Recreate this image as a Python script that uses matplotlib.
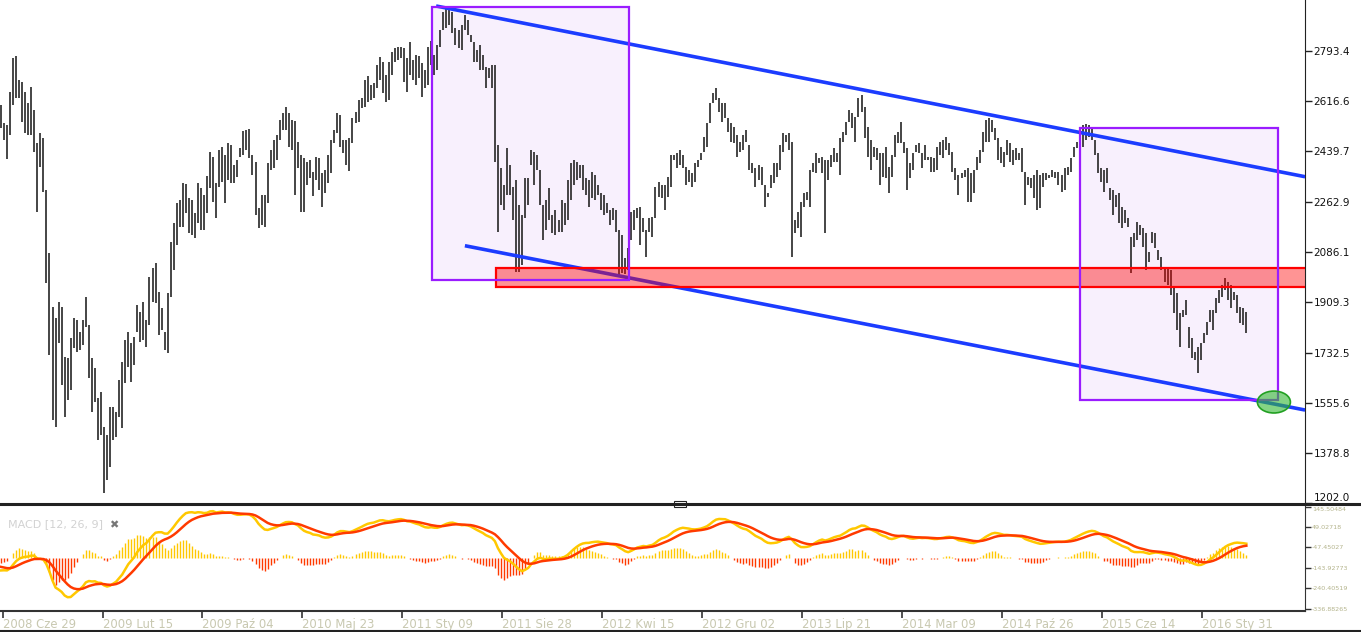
import numpy as np
import matplotlib
matplotlib.use("Agg")
import matplotlib.pyplot as plt
from matplotlib.patches import Rectangle, Ellipse
from matplotlib.lines import Line2D

# weekly highs / lows (2008-06-29 onwards)
high = [2603, 2539, 2532, 2648, 2768, 2775, 2690, 2683, 2648, 2610,
        2666, 2585, 2469, 2504, 2487, 2304, 2082, 1893, 1854, 1910,
        1893, 1717, 1713, 1783, 1854, 1847, 1805, 1847, 1928, 1829,
        1713, 1678, 1573, 1594, 1471, 1443, 1541, 1541, 1523, 1636,
        1699, 1776, 1805, 1766, 1787, 1900, 1875, 1910, 1847, 1998,
        2030, 2047, 1945, 1889, 1805, 1942, 2121, 2188, 2258, 2269,
        2328, 2325, 2276, 2269, 2223, 2328, 2311, 2286, 2353, 2437,
        2420, 2328, 2444, 2455, 2427, 2469, 2462, 2392, 2409, 2451,
        2511, 2515, 2518, 2427, 2402, 2241, 2286, 2286, 2399, 2444,
        2480, 2497, 2550, 2574, 2595, 2574, 2550, 2546, 2473, 2427,
        2416, 2402, 2409, 2367, 2420, 2416, 2363, 2374, 2427, 2480,
        2515, 2574, 2567, 2480, 2480, 2487, 2557, 2578, 2620, 2627,
        2690, 2704, 2673, 2679, 2743, 2771, 2754, 2708, 2754, 2789,
        2803, 2806, 2806, 2803, 2768, 2824, 2761, 2778, 2775, 2750,
        2726, 2806, 2828, 2778, 2813, 2866, 2929, 2943, 2936,
        2929, 2873, 2866, 2884, 2919, 2901, 2849, 2824, 2796, 2813,
        2778, 2736, 2733, 2743, 2743, 2462, 2381, 2321, 2451, 2392,
        2314, 2339, 2251, 2216, 2346, 2346, 2444, 2437, 2427, 2374,
        2251, 2269, 2311, 2216, 2233, 2198, 2269, 2258, 2339, 2399,
        2409, 2402, 2392, 2392, 2346, 2339, 2367, 2356, 2321, 2293,
        2286, 2258, 2233, 2241, 2233, 2163, 2146, 2065, 2100, 2226,
        2233, 2241, 2244, 2205, 2163, 2205, 2209, 2314, 2332, 2321,
        2321, 2349, 2427, 2427, 2434, 2444, 2427, 2385, 2374,
        2363, 2399, 2409, 2434, 2490, 2539, 2610, 2645, 2662, 2627,
        2610, 2610, 2557, 2539, 2525, 2497, 2473, 2497, 2515, 2462,
        2399, 2381, 2392, 2385, 2321, 2293, 2356, 2399, 2399, 2462,
        2504, 2497, 2504, 2473, 2198, 2226, 2262, 2293, 2297, 2374,
        2399, 2434, 2416, 2420, 2409, 2409, 2427, 2451, 2434, 2487,
        2508, 2543, 2585, 2574, 2560, 2627, 2638, 2595, 2525, 2480,
        2455, 2451, 2434, 2434, 2455, 2385, 2427, 2497, 2508, 2543,
        2473, 2451, 2399, 2434, 2462, 2469, 2434, 2462, 2420, 2420,
        2416, 2455, 2473, 2480, 2490, 2469, 2437, 2381, 2356, 2363,
        2374, 2381, 2363, 2374, 2420, 2444, 2508, 2550, 2557, 2550,
        2522, 2487, 2455, 2437, 2480, 2469, 2444, 2451, 2434,
        2451, 2367, 2349, 2346, 2356, 2374, 2356, 2363, 2363, 2356,
        2374, 2367, 2367, 2356, 2381, 2385, 2416, 2455, 2473, 2504,
        2532, 2536, 2532, 2525, 2480, 2434, 2381, 2374, 2381,
        2311, 2304, 2286, 2293, 2244, 2233, 2205, 2139, 2153, 2191,
        2181, 2170, 2153, 2086, 2156, 2153, 2093, 2068, 2033, 2033,
        2023, 1959, 1942, 1871, 1882, 1917, 1822, 1783, 1734, 1752,
        1766, 1801, 1840, 1882, 1882, 1924, 1952, 1970, 1994, 1980,
        1970, 1945, 1935, 1893, 1889, 1875]

low = [2522, 2480, 2413, 2497, 2603, 2627, 2627, 2543, 2504, 2497,
       2497, 2437, 2226, 2385, 2297, 1977, 1724, 1495, 1471, 1766,
       1618, 1506, 1566, 1601, 1748, 1734, 1741, 1759, 1822, 1643,
       1523, 1559, 1425, 1443, 1239, 1284, 1330, 1425, 1436, 1506,
       1467, 1625, 1682, 1629, 1689, 1805, 1769, 1776, 1752, 1829,
       1910, 1907, 1794, 1812, 1741, 1731, 1928, 2023, 2110, 2174,
       2174, 2223, 2153, 2146, 2135, 2188, 2163, 2163, 2223, 2311,
       2262, 2205, 2314, 2332, 2258, 2339, 2328, 2328, 2349, 2420,
       2427, 2444, 2416, 2356, 2216, 2170, 2181, 2174, 2258, 2374,
       2381, 2409, 2480, 2515, 2515, 2455, 2444, 2286, 2381, 2226,
       2226, 2321, 2346, 2283, 2339, 2304, 2244, 2293, 2328, 2363,
       2469, 2504, 2455, 2434, 2392, 2371, 2469, 2539, 2543, 2592,
       2595, 2613, 2620, 2627, 2662, 2690, 2645, 2613, 2620, 2708,
       2754, 2761, 2768, 2683, 2648, 2708, 2690, 2673, 2697, 2631,
       2662, 2673, 2743, 2708, 2726, 2806, 2866, 2873, 2884,
       2856, 2813, 2803, 2796, 2866, 2849, 2824, 2754, 2754, 2726,
       2726, 2662, 2697, 2662, 2402, 2156, 2251, 2233, 2286, 2286,
       2198, 2015, 2015, 2040, 2205, 2251, 2392, 2321, 2374, 2251,
       2128, 2163, 2198, 2153, 2146, 2156, 2156, 2181, 2198, 2269,
       2321, 2339, 2346, 2304, 2286, 2244, 2276, 2269, 2286, 2233,
       2216, 2223, 2181, 2198, 2156, 2005, 2012, 2008, 2023, 2128,
       2163, 2205, 2110, 2156, 2068, 2156, 2139, 2205, 2279, 2276,
       2233, 2279, 2314, 2409, 2381, 2392, 2381, 2321, 2332,
       2314, 2332, 2385, 2409, 2437, 2455, 2539, 2610, 2620, 2578,
       2543, 2557, 2508, 2473, 2469, 2420, 2437, 2444, 2473, 2374,
       2363, 2314, 2339, 2321, 2244, 2279, 2311, 2328, 2349, 2374,
       2437, 2473, 2444, 2068, 2153, 2170, 2139, 2244, 2269, 2244,
       2367, 2363, 2399, 2363, 2153, 2339, 2385, 2402, 2402, 2356,
       2473, 2497, 2543, 2522, 2473, 2560, 2578, 2487, 2420, 2374,
       2420, 2409, 2321, 2349, 2346, 2293, 2349, 2420, 2469, 2469,
       2434, 2304, 2346, 2374, 2437, 2434, 2381, 2409, 2409, 2367,
       2367, 2374, 2427, 2416, 2444, 2427, 2367, 2339, 2286, 2346,
       2349, 2262, 2262, 2293, 2374, 2399, 2437, 2473, 2473, 2508,
       2480, 2409, 2399, 2385, 2427, 2402, 2392, 2409, 2409,
       2367, 2251, 2321, 2311, 2276, 2233, 2241, 2314, 2339, 2346,
       2349, 2346, 2321, 2297, 2304, 2356, 2367, 2420, 2451, 2455,
       2455, 2480, 2490, 2480, 2427, 2363, 2332, 2297, 2328,
       2269, 2216, 2244, 2188, 2170, 2188, 2174, 2012, 2103, 2128,
       2146, 2103, 2023, 2051, 2117, 2100, 2058, 2023, 1980, 1970,
       1935, 1871, 1812, 1752, 1857, 1864, 1748, 1713, 1706, 1661,
       1706, 1766, 1794, 1840, 1812, 1871, 1907, 1928, 1952, 1917,
       1889, 1917, 1871, 1836, 1829, 1801]

date_labels = ["2008 Cze 29", "2009 Lut 15", "2009 Paź 04", "2010 Maj 23",
               "2011 Sty 09", "2011 Sie 28", "2012 Kwi 15", "2012 Gru 02",
               "2013 Lip 21", "2014 Mar 09", "2014 Paź 26", "2015 Cze 14",
               "2016 Sty 31"]
price_ticks = [1202.0, 1378.8, 1555.6, 1732.5, 1909.3, 2086.1, 2262.9,
               2439.7, 2616.6, 2793.4]
macd_ticks = [145.50484, 49.02718, -47.45027, -143.92773, -240.40519, -336.88265]

# hand drawn objects (week index, price)
box_2011 = (142.2, 1987, 207.3, 2947)
box_2015 = (356.1, 1566, 421.5, 2522)
support_zone = (163.4, 1964, 2028)
upper_trend = ([143.6, 430.4], [2950.5, 2350.5])
lower_trend = ([153.1, 430.4], [2108, 1530.5])
target = (420.1, 1558.6)

# MACD(12, 26, 9) state carried in from before the first visible week
ema12_start, ema26_start, signal_start = 2660, 2820, -135


def ema(values, span, start):
    k = 2.0 / (span + 1)
    out = []
    prev = start
    for v in values:
        prev = prev + k * (v - prev)
        out.append(prev)
    return np.array(out)


assert len(high) == len(low)
high = np.array(high)
low = np.array(low)
weeks = np.arange(len(high))
mid = (high + low) / 2
macd = ema(mid, 12, ema12_start) - ema(mid, 26, ema26_start)
signal = ema(macd, 9, signal_start)
hist = macd - signal

W, H = 1361, 632
fig = plt.figure(figsize=(W / 100, H / 100), dpi=100)
fig.patch.set_facecolor("white")
xlim = (-1 / 3.03, 1304 / 3.03)

# ---- price panel
ax = fig.add_axes([0, (H - 503.5) / H, 1305 / W, 503.5 / H])
ax.set_xlim(*xlim)
ax.set_ylim(1202, 2971.6)
for s in ["left", "top", "bottom"]:
    ax.spines[s].set_visible(False)
ax.spines["right"].set_color("#222222")
ax.set_xticks([])
ax.yaxis.tick_right()
ax.set_yticks(price_ticks)
ax.set_yticklabels(["%.1f" % t for t in price_ticks])
ax.tick_params(axis="y", length=5, width=1, color="#222222", labelsize=7.5,
               pad=1, labelcolor="#111111")
ax.get_yticklabels()[0].set_verticalalignment("bottom")

x0, y0, x1, y1 = box_2011
ax.add_patch(Rectangle((x0, y0), x1 - x0, y1 - y0, facecolor="#f8f0fd",
                       edgecolor="none", zorder=0))
x0, y0, x1, y1 = box_2015
ax.add_patch(Rectangle((x0, y0), x1 - x0, y1 - y0, facecolor="#f8f0fd",
                       edgecolor="none", zorder=0))

ax.vlines(weeks, low, high, colors="#262626", linewidth=1.2, zorder=2)

ax.plot(*upper_trend, color="#1c3cff", lw=2.6, zorder=3, solid_capstyle="butt")
ax.plot(*lower_trend, color="#1c3cff", lw=2.6, zorder=3, solid_capstyle="butt")

zx, zlo, zhi = support_zone
ax.add_patch(Rectangle((zx, zlo), 300, zhi - zlo, facecolor=(1, 0, 0, 0.42),
                       edgecolor="#ff0000", lw=1.6, zorder=4))

for x0, y0, x1, y1 in [box_2011, box_2015]:
    ax.add_patch(Rectangle((x0, y0), x1 - x0, y1 - y0, facecolor="none",
                           edgecolor="#9a1cff", lw=1.6, zorder=5))

ax.add_patch(Ellipse(target, 10.9, 77, facecolor=(0.2, 0.72, 0.2, 0.6),
                     edgecolor="#22a022", lw=1.2, zorder=6))

# ---- MACD panel
ax2 = fig.add_axes([0, (H - 611) / H, 1305 / W, 106 / H])
ax3 = ax2.twinx()
ax3.set_zorder(ax2.get_zorder() - 1)
ax2.patch.set_visible(False)

ax2.set_xlim(*xlim)
ax2.set_ylim(-347.7, 153.5)
for s in ["left", "top"]:
    ax2.spines[s].set_visible(False)
ax2.spines["bottom"].set_color("#333333")
ax2.spines["bottom"].set_linewidth(1.5)
ax2.spines["right"].set_color("#333333")
ax2.yaxis.tick_right()
ax2.set_yticks(macd_ticks)
ax2.set_yticklabels(["%.5f" % t for t in macd_ticks])
ax2.tick_params(axis="y", length=4, width=1, color="#333333", labelsize=4.6,
                pad=1, labelcolor="#b4b48c")
ax2.get_yticklabels()[0].set_verticalalignment("top")
ax2.set_xticks(0.5 + 33 * np.arange(len(date_labels)))
ax2.set_xticklabels(date_labels)
ax2.tick_params(axis="x", length=5, width=1.2, color="#333333", labelsize=8.4,
                pad=0, labelcolor="#c8c8b0")
for lab in ax2.get_xticklabels():
    lab.set_horizontalalignment("left")

ax2.plot(weeks, macd, color="#ffc800", lw=1.8, zorder=3)
ax2.plot(weeks, signal, color="#ff3a00", lw=1.8, zorder=4)

hmax = np.abs(hist).max() * 53.3 / 27
ax3.set_ylim(-hmax, hmax * 52.7 / 53.3)
ax3.set_xlim(*xlim)
ax3.axis("off")
hist_colors = np.where(hist >= 0, "#ffc800", "#ff3a00")
ax3.vlines(weeks, 0, hist, colors=hist_colors, linewidth=1.0)

fig.text(8 / W, 1 - 524 / H, "MACD [12, 26, 9]", color="#d2d2d2", fontsize=8,
         va="center")
fig.text(109 / W, 1 - 525 / H, "\u2716", color="#777777", fontsize=8,
         va="center")

# panel separator and frame
sep_y = (H - 503.5) / H
fig.add_artist(Line2D([0, 1], [sep_y, sep_y], color="#222222", lw=2.2))
fig.add_artist(Rectangle((674 / W, (H - 506.5) / H), 12 / W, 6 / H,
                         facecolor="white", edgecolor="#222222", lw=0.8))
fig.add_artist(Line2D([0, 1], [0.8 / H, 0.8 / H], color="#222222", lw=1.5))

fig.savefig("out.png", dpi=100, facecolor="white")
